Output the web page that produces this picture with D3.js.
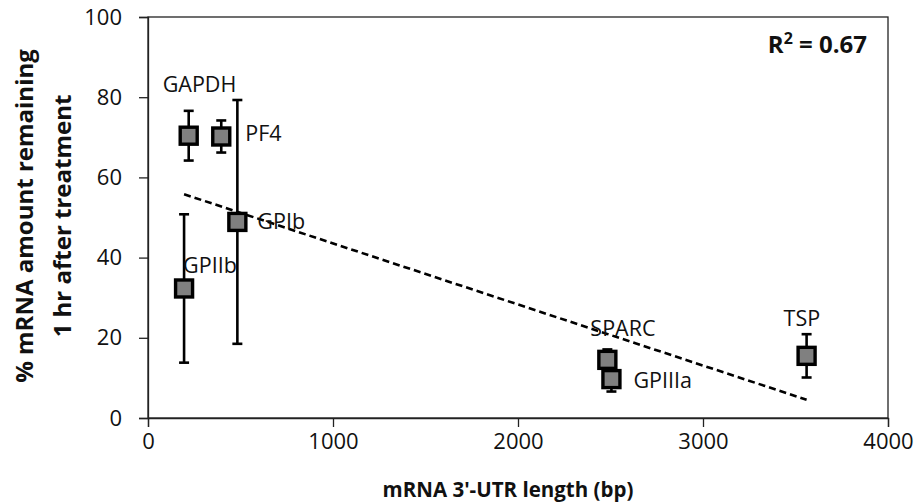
<!DOCTYPE html>
<html>
<head>
<meta charset="utf-8">
<script src="https://cdn.jsdelivr.net/npm/d3@7"></script>
<style>
body { margin: 0; background: #fff; }
text { font-family: "Open Sans", sans-serif; }
</style>
</head>
<body>
<svg id="chart" width="915" height="503"></svg>
<script>
// values
var genes = ["GAPDH", "PF4", "GPIb", "GPIIb", "SPARC", "GPIIIa", "TSP"];
var utrLength = [220, 396, 483, 195, 2483, 2505, 3560];
var remaining = [70.4, 70.2, 48.9, 32.3, 14.5, 9.7, 15.5];
var errBar = [6.2, 4.0, 30.4, 18.5, 2.6, 3.1, 5.4];
var xTicks = [0, 1000, 2000, 3000, 4000];
var yTicks = [0, 20, 40, 60, 80, 100];

// label offsets from the marker (px), start-anchored
var labelDx = [-26, 24, 20, -1, -17, 22, -23];
var labelDy = [-44, 5, 7, -15, -24, 9, -30];

var svg = d3.select("#chart");
var padL = 148, padR = 888, padT = 17, padB = 418;

var x = d3.scaleLinear().domain([0, 4000]).range([padL, padR]);
var y = d3.scaleLinear().domain([0, 100]).range([padB, padT]);

svg.append("rect").attr("width", 915).attr("height", 503).attr("fill", "#fff");

// box
svg.append("rect")
    .attr("x", padL).attr("y", padT)
    .attr("width", padR - padL).attr("height", padB - padT)
    .attr("fill", "none").attr("stroke", "#222").attr("stroke-width", 1.3);

var xAxis = svg.append("g")
    .attr("transform", "translate(0," + padB + ")")
    .call(d3.axisBottom(x).tickValues(xTicks).tickSize(9).tickPadding(6).tickFormat(d3.format("d")));
var yAxis = svg.append("g")
    .attr("transform", "translate(" + padL + ",0)")
    .call(d3.axisLeft(y).tickValues(yTicks).tickSize(9).tickPadding(17).tickFormat(d3.format("d")));

[xAxis, yAxis].forEach(function(a) {
    a.select(".domain").attr("stroke", "#222").attr("stroke-width", 1.3);
    a.selectAll(".tick line").attr("stroke", "#222").attr("stroke-width", 1.3);
    a.selectAll(".tick text").attr("font-size", 22).attr("fill", "#111")
        .style("font-family", "'Open Sans', sans-serif");
});

// linear fit
var n = utrLength.length;
var mx = d3.mean(utrLength), my = d3.mean(remaining);
var sxy = 0, sxx = 0, syy = 0;
for (var i = 0; i < n; i++) {
    sxy += (utrLength[i] - mx) * (remaining[i] - my);
    sxx += (utrLength[i] - mx) * (utrLength[i] - mx);
    syy += (remaining[i] - my) * (remaining[i] - my);
}
var slope = sxy / sxx, icpt = my - slope * mx;
var r2 = sxy * sxy / (sxx * syy);
var x0 = d3.min(utrLength), x1 = d3.max(utrLength);

svg.append("line")
    .attr("x1", x(x0)).attr("y1", y(icpt + slope * x0))
    .attr("x2", x(x1)).attr("y2", y(icpt + slope * x1))
    .attr("stroke", "#000").attr("stroke-width", 2.6)
    .attr("stroke-dasharray", "7,4");

// error bars
var eb = svg.append("g").attr("stroke", "#000").attr("stroke-width", 2.6);
genes.forEach(function(g, i) {
    var cx = x(utrLength[i]);
    var hi = y(remaining[i] + errBar[i]), lo = y(remaining[i] - errBar[i]);
    eb.append("line").attr("x1", cx).attr("x2", cx).attr("y1", hi).attr("y2", lo);
    eb.append("line").attr("x1", cx - 5).attr("x2", cx + 5).attr("y1", hi).attr("y2", hi);
    eb.append("line").attr("x1", cx - 5).attr("x2", cx + 5).attr("y1", lo).attr("y2", lo);
});

// markers
svg.append("g").selectAll("rect")
    .data(genes)
    .enter().append("rect")
    .attr("x", function(d, i) { return x(utrLength[i]) - 8.5; })
    .attr("y", function(d, i) { return y(remaining[i]) - 8.5; })
    .attr("width", 17).attr("height", 17)
    .attr("fill", "#808080").attr("stroke", "#000").attr("stroke-width", 3.4);

// data labels
svg.append("g").selectAll("text")
    .data(genes)
    .enter().append("text")
    .attr("x", function(d, i) { return x(utrLength[i]) + labelDx[i]; })
    .attr("y", function(d, i) { return y(remaining[i]) + labelDy[i]; })
    .attr("font-size", 21.5).attr("fill", "#111")
    .text(function(d) { return d; });

// R squared
var rt = svg.append("text")
    .attr("x", 867).attr("y", 53)
    .attr("text-anchor", "end")
    .attr("font-size", 24).attr("font-weight", "bold").attr("fill", "#111");
rt.append("tspan").text("R");
rt.append("tspan").attr("dy", -9).attr("font-size", 16).text("2");
rt.append("tspan").attr("dy", 9).text(" = " + r2.toFixed(2));

// axis titles
svg.append("text")
    .attr("x", 508).attr("y", 497)
    .attr("text-anchor", "middle")
    .attr("font-size", 20.5).attr("font-weight", "bold").attr("fill", "#111")
    .text("mRNA 3'-UTR length (bp)");

var yt = svg.append("text")
    .attr("transform", "translate(0,216) rotate(-90)")
    .attr("text-anchor", "middle")
    .attr("font-size", 24).attr("font-weight", "bold").attr("fill", "#111");
yt.append("tspan").attr("x", 0).attr("y", 33).text("% mRNA amount remaining");
yt.append("tspan").attr("x", 0).attr("y", 71).text("1 hr after treatment");
</script>
</body>
</html>
